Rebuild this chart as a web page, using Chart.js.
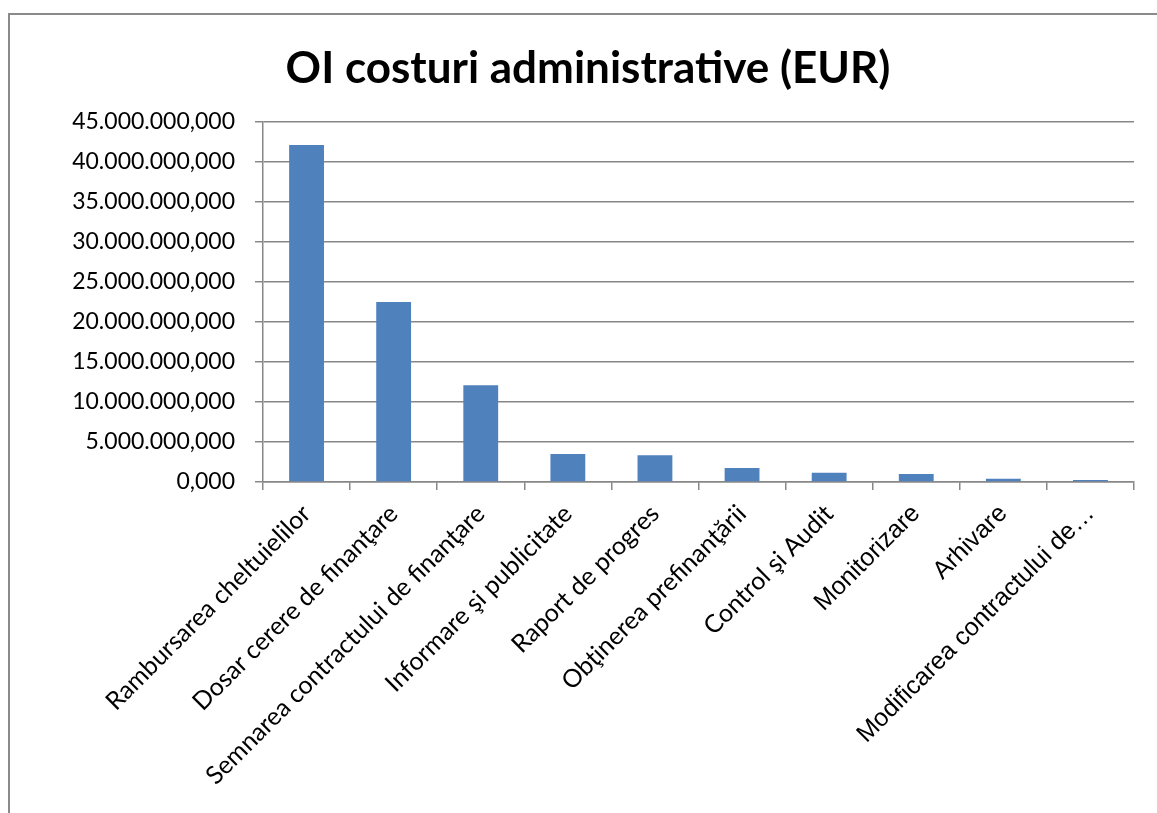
<!DOCTYPE html>
<html>
<head>
<meta charset="utf-8">
<title>OI costuri administrative</title>
<script src="https://cdn.jsdelivr.net/npm/chart.js@4.4.0/dist/chart.umd.min.js"></script>
<style>
  html, body { margin: 0; padding: 0; background: #fff; overflow: hidden; }
  #cadru { position: absolute; left: 8px; top: 13px; width: 1200px; height: 900px; border: 2px solid #8a8a8a; }
  #zona { position: absolute; left: 0; top: 0; width: 1157px; height: 813px; }
</style>
</head>
<body>
<div id="cadru"></div>
<div id="zona"><canvas id="costuriChart"></canvas></div>
<script>
// Categorii de activitate si costurile lor (EUR)
const categorii = [
    'Rambursarea cheltuielilor',
    'Dosar cerere de finanţare',
    'Semnarea contractului de finanţare',
    'Informare şi publicitate',
    'Raport de progres',
    'Obţinerea prefinanţării',
    'Control şi Audit',
    'Monitorizare',
    'Arhivare',
    'Modificarea contractului de…'
];
const costuri = [42100000, 22500000, 12100000, 3500000, 3330000, 1750000, 1170000, 1000000, 400000, 250000];

// Axa Y: 0 ... 45.000.000,000 din 5 in 5 milioane
const axaMin = 0;
const axaMax = 45000000;
const axaPas = 5000000;

// etichete scrise cu Arial in original
const eticheteArial = ['Monitorizare', 'Arhivare', 'Modificarea contractului de…'];

function formatEuro(v) {
    return String(Math.round(v)).replace(/\B(?=(\d{3})+(?!\d))/g, '.') + ',000';
}

const culoareGrila = '#888888';

const ctxCosturi = document.getElementById('costuriChart').getContext('2d');
const costuriChart = new Chart(ctxCosturi, {
    type: 'bar',
    data: {
        labels: categorii,
        datasets: [{
            label: 'OI costuri administrative (EUR)',
            data: costuri,
            backgroundColor: '#4F81BD',
            borderWidth: 0,
            categoryPercentage: 1.0,
            barPercentage: 0.4
        }]
    },
    options: {
        responsive: true,
        maintainAspectRatio: false,
        animation: false,
        layout: {
            padding: { left: 42, right: 23, top: 0, bottom: 0 }
        },
        plugins: {
            legend: { display: false },
            tooltip: { enabled: false },
            title: {
                display: true,
                text: 'OI costuri administrative (EUR)',
                color: '#000',
                font: { family: 'Lato', size: 44, weight: 'bold' },
                padding: { top: 42, bottom: 27 }
            }
        },
        scales: {
            x: {
                grid: {
                    display: true,
                    offset: true,
                    drawOnChartArea: false,
                    drawTicks: true,
                    tickLength: 8,
                    color: culoareGrila,
                    lineWidth: 1.5
                },
                border: { display: true, color: culoareGrila, width: 1.5 },
                ticks: {
                    autoSkip: false,
                    minRotation: 45,
                    maxRotation: 45,
                    padding: 9,
                    color: '#000',
                    font: function(context) {
                        const eticheta = categorii[context.index];
                        if (eticheteArial.includes(eticheta)) {
                            return { family: 'Liberation Sans', size: 25 };
                        }
                        return { family: 'Lato', size: 25 };
                    }
                },
                afterFit: function(scale) {
                    scale.height = 331;
                }
            },
            y: {
                min: axaMin,
                max: axaMax,
                grid: {
                    color: culoareGrila,
                    lineWidth: 1.5,
                    drawTicks: true,
                    tickLength: 8
                },
                border: { display: true, color: culoareGrila, width: 1.5 },
                ticks: {
                    stepSize: axaPas,
                    padding: 20,
                    color: '#000',
                    font: { family: 'Lato', size: 23 },
                    callback: function(value) {
                        return formatEuro(value);
                    }
                },
                afterFit: function(scale) {
                    scale.width = 221;
                }
            }
        }
    }
});
</script>
</body>
</html>
